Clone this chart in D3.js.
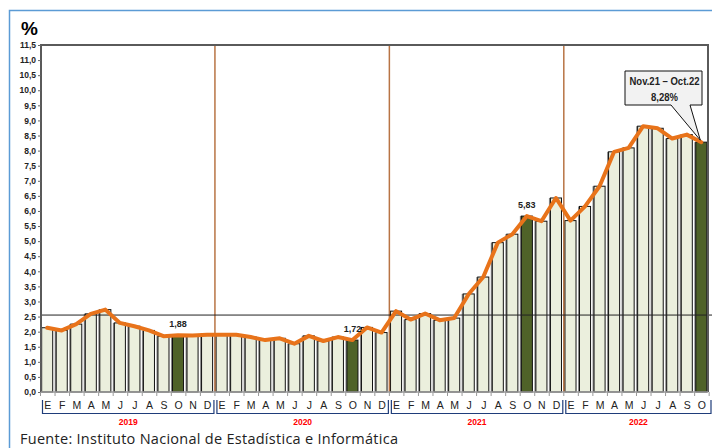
<!DOCTYPE html>
<html>
<head>
<meta charset="utf-8">
<script src="https://cdn.jsdelivr.net/npm/d3@7"></script>
<style>
body { margin:0; background:#fff; }
svg { display:block; font-family: "Liberation Sans", Arial, sans-serif; }
</style>
</head>
<body>
<div id="chart"></div>
<script>

// data
var months = ["E","F","M","A","M","J","J","A","S","O","N","D"];
var years = ["2019","2020","2021","2022"];
var values = [
	2.13, 2.04, 2.25, 2.59, 2.73, 2.29, 2.18, 2.04, 1.85, 1.88, 1.87, 1.90,
	1.90, 1.90, 1.82, 1.72, 1.78, 1.60, 1.86, 1.69, 1.82, 1.72, 2.14, 1.97,
	2.68, 2.40, 2.60, 2.38, 2.45, 3.25, 3.81, 4.95, 5.23, 5.83, 5.66, 6.43,
	5.68, 6.15, 6.82, 7.96, 8.09, 8.81, 8.74, 8.40, 8.53, 8.28
];
var highlight = [9, 21, 33, 45];
var labels = [{i:9, text:"1,88"}, {i:21, text:"1,72"}, {i:33, text:"5,83"}];
var refvalue = 2.55;
var yticks = d3.range(0, 11.51, 0.5);
var calloutLines = ["Nov.21 \u2013 Oct.22", "8,28%"];

var width = 712, height = 448,
	plot_left = 41, plot_right = 708, plot_top = 45, plot_bottom = 392;

var barcolor = "#ebefdd",
	darkcolor = "#4f6228",
	linecolor = "#e8731a",
	yearline = "#b87444",
	bracketcolor = "#1f3d7a";

var svg = d3.select("#chart").append("svg")
	.attr("width", width)
	.attr("height", height);

var X = d3.scaleBand().domain(d3.range(values.length)).range([40.5, plot_right]).paddingInner(0.24).paddingOuter(0.08);
var Y = d3.scaleLinear().domain([0, 11.5]).range([plot_bottom, plot_top]);
var step = X.step();
var x0 = X(0) - X.paddingOuter() * step; // left edge of first band

// outer blue frame
svg.append("path")
	.attr("d", "M9.5,449 V10.5 H713")
	.attr("fill", "none")
	.attr("stroke", "#5b9bd5")
	.attr("stroke-width", 1.5);

svg.append("text")
	.attr("x", 21).attr("y", 35)
	.attr("font-size", 19).attr("font-weight", "bold")
	.text("%");

// bars
var bars = svg.append("g");
bars.selectAll(".shadow").data(values).enter().append("rect")
	.attr("x", function(d,i){ return X(i) - 1.5; })
	.attr("y", function(d){ return Y(d); })
	.attr("width", 2)
	.attr("height", function(d){ return plot_bottom - Y(d); })
	.attr("fill", "#8a8a8a");
bars.selectAll(".bar").data(values).enter().append("rect")
	.attr("x", function(d,i){ return X(i); })
	.attr("y", function(d){ return Y(d); })
	.attr("width", X.bandwidth())
	.attr("height", function(d){ return plot_bottom - Y(d); })
	.attr("fill", function(d,i){ return highlight.indexOf(i) >= 0 ? darkcolor : barcolor; })
	.attr("stroke", "#111")
	.attr("stroke-width", 1);

// year dividers
svg.selectAll(".yearline").data([12, 24, 36]).enter().append("line")
	.attr("x1", function(d){ return x0 + d * step; })
	.attr("x2", function(d){ return x0 + d * step; })
	.attr("y1", plot_top).attr("y2", plot_bottom)
	.attr("stroke", yearline)
	.attr("stroke-width", 1.5);

// reference line
svg.append("line")
	.attr("x1", plot_left).attr("x2", 712)
	.attr("y1", Y(refvalue)).attr("y2", Y(refvalue))
	.attr("stroke", "#222").attr("stroke-width", 1);

// frame
svg.append("path")
	.attr("d", "M" + plot_left + "," + plot_bottom + " V" + plot_top + " H" + plot_right + " V" + plot_bottom)
	.attr("fill", "none").attr("stroke", "#5a5a5a").attr("stroke-width", 2);
svg.append("line")
	.attr("x1", plot_left).attr("x2", plot_right)
	.attr("y1", plot_bottom).attr("y2", plot_bottom)
	.attr("stroke", "#9a9a9a").attr("stroke-width", 1.5);

// y axis
var yaxis = svg.append("g").attr("transform", "translate(" + plot_left + ",0)")
	.call(d3.axisLeft(Y).tickValues(yticks).tickSize(3).tickFormat(function(d){ return d3.format(".1f")(d).replace(".", ","); }));
yaxis.select(".domain").remove();
yaxis.selectAll("line").attr("stroke", "#666");
yaxis.selectAll("text")
	.attr("font-size", 8.5).attr("font-weight", "bold")
	.attr("font-family", "Liberation Sans, Arial, sans-serif")
	.attr("fill", "#222").attr("x", -5);

// x ticks at band boundaries
svg.selectAll(".xtick").data(d3.range(values.length + 1)).enter().append("line")
	.attr("x1", function(d){ return x0 + d * step; })
	.attr("x2", function(d){ return x0 + d * step; })
	.attr("y1", plot_bottom).attr("y2", plot_bottom + 4)
	.attr("stroke", "#999");

svg.selectAll(".month").data(values).enter().append("text")
	.attr("x", function(d,i){ return X(i) + X.bandwidth() / 2 + 0.5; })
	.attr("y", 409)
	.attr("text-anchor", "middle")
	.attr("font-size", 10.5)
	.attr("fill", "#222")
	.text(function(d,i){ return months[i % 12]; });

// year brackets
years.forEach(function(y, k){
	var a = x0 + k * 12 * step + 2,
		b = Math.min(x0 + (k + 1) * 12 * step - 1, 711);
	svg.append("path")
		.attr("d", "M" + a + ",400 V413.5 H" + b + " V400")
		.attr("fill", "none").attr("stroke", bracketcolor).attr("stroke-width", 1.2);
	svg.append("text")
		.attr("x", (a + b) / 2).attr("y", 425)
		.attr("text-anchor", "middle")
		.attr("font-size", 8.5).attr("font-weight", "bold")
		.attr("fill", "#ff0000")
		.text(y);
});

// line
var line = d3.line()
	.x(function(d,i){ return X(i) + X.bandwidth() / 2; })
	.y(function(d){ return Y(d); });
svg.append("path")
	.datum(values)
	.attr("d", line)
	.attr("fill", "none")
	.attr("stroke", linecolor)
	.attr("stroke-width", 4)
	.attr("stroke-linejoin", "round")
	.attr("stroke-linecap", "round");

// value labels
svg.selectAll(".vlabel").data(labels).enter().append("text")
	.attr("x", function(d){ return X(d.i) + X.bandwidth() / 2; })
	.attr("y", function(d){ return Y(values[d.i]) - 8; })
	.attr("text-anchor", "middle")
	.attr("font-size", 9).attr("font-weight", "bold")
	.attr("fill", "#222")
	.text(function(d){ return d.text; });

// callout
var last = values.length - 1;
var tipx = X(last) + X.bandwidth() / 2 - 1, tipy = Y(values[last]) - 2;
var bx0 = 625, bx1 = 702, by0 = 71, by1 = 105;
svg.append("path")
	.attr("d", "M" + bx0 + "," + by0 + " H" + bx1 + " V" + by1 + " H690 L" + tipx + "," + tipy + " L671," + by1 + " H" + bx0 + " Z")
	.attr("fill", "#f2f2f2").attr("stroke", "#111").attr("stroke-width", 1);
var calloutWidths = [70, 27];
svg.selectAll(".callout").data(calloutLines).enter().append("text")
	.attr("x", function(d,i){ return (bx0 + bx1) / 2 + 1 - calloutWidths[i] / 2; })
	.attr("y", function(d,i){ return 84.5 + i * 16; })
	.attr("textLength", function(d,i){ return calloutWidths[i]; })
	.attr("lengthAdjust", "spacingAndGlyphs")
	.attr("font-size", 11).attr("font-weight", "bold")
	.attr("fill", "#222")
	.text(function(d){ return d; });

svg.append("text")
	.attr("x", 20).attr("y", 444)
	.attr("font-family", "Open Sans, sans-serif")
	.attr("font-size", 14.5)
	.attr("textLength", 378)
	.attr("fill", "#222")
	.text("Fuente: Instituto Nacional de Estad\u00edstica e Inform\u00e1tica");

</script>
</body>
</html>
